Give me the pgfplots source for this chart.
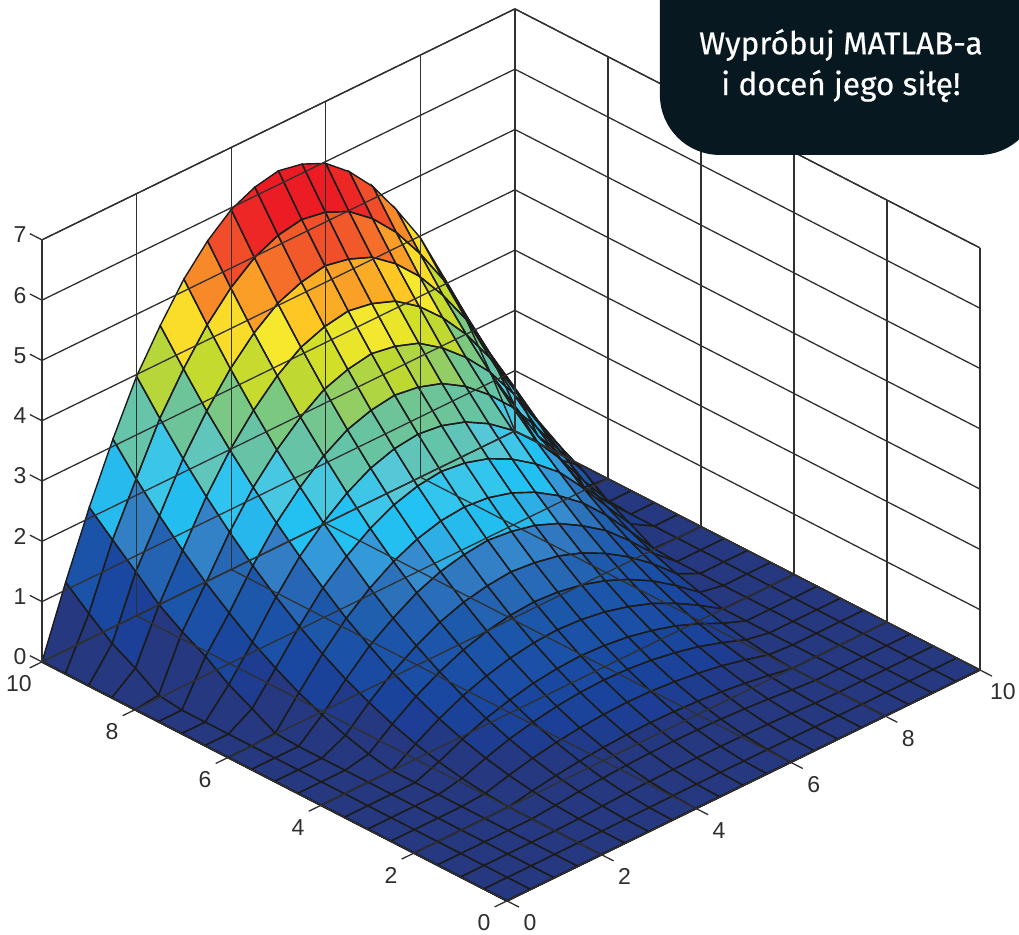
\documentclass[border=0pt]{standalone}
\usepackage{fontspec}
\setmainfont{Liberation Sans}
\newfontfamily\callfont[FakeBold=0.5]{Fira Sans}
\usepackage{pgfplots}
\usepackage{pgfplotstable}
\pgfplotsset{compat=1.18}
\usetikzlibrary{calc}
\definecolor{tickc}{HTML}{2E2E2E}
\definecolor{gridc}{HTML}{303030}
\definecolor{callc}{HTML}{071820}
\pgfplotsset{
 colormap={surfmap}{
  rgb255=(37,56,128) rgb255=(37,56,128) rgb255=(29,62,148) rgb255=(26,68,156) rgb255=(26,72,160)
  rgb255=(27,78,165) rgb255=(27,82,167) rgb255=(28,85,170) rgb255=(28,88,170) rgb255=(34,96,176)
  rgb255=(40,105,182) rgb255=(45,115,188) rgb255=(50,125,195) rgb255=(55,145,212) rgb255=(45,175,230)
  rgb255=(35,190,240) rgb255=(35,192,242) rgb255=(35,195,245) rgb255=(60,198,232) rgb255=(75,199,222)
  rgb255=(90,199,210) rgb255=(100,196,170) rgb255=(102,195,165) rgb255=(104,195,160) rgb255=(108,196,152)
  rgb255=(118,199,135) rgb255=(135,203,115) rgb255=(160,209,85) rgb255=(190,216,50) rgb255=(198,219,45)
  rgb255=(205,222,40) rgb255=(225,227,42) rgb255=(245,232,45) rgb255=(250,218,40) rgb255=(255,205,35)
  rgb255=(252,182,38) rgb255=(250,160,40) rgb255=(248,140,41) rgb255=(246,120,42) rgb255=(243,102,42)
  rgb255=(241,85,42) rgb255=(240,68,41) rgb255=(238,50,40) rgb255=(237,39,38) rgb255=(236,28,36)
  rgb255=(236,28,36) rgb255=(236,28,36)},
 colormap={linemap}{rgb255=(28,28,28) rgb255=(28,28,28)}
}
\pgfplotstableread[row sep=\\]{
x y z\\
0 0 0\\ 0.5 0 0\\ 1 0 0\\ 1.5 0 0\\ 2 0 0\\ 2.5 0 0\\ 3 0 0\\ 3.5 0 0\\ 4 0 0\\ 4.5 0 0\\ 5 0 0\\ 5.5 0 0\\ 6 0 0\\ 6.5 0 0\\ 7 0 0\\ 7.5 0 0\\ 8 0 0\\ 8.5 0 0\\ 9 0 0\\ 9.5 0 0\\ 10 0 0\\
0 0.5 0\\ 0.5 0.5 0\\ 1 0.5 0\\ 1.5 0.5 0\\ 2 0.5 0\\ 2.5 0.5 .002\\ 3 0.5 .006\\ 3.5 0.5 .010\\ 4 0.5 .013\\ 4.5 0.5 .015\\ 5 0.5 .016\\ 5.5 0.5 .015\\ 6 0.5 .013\\ 6.5 0.5 .010\\ 7 0.5 .006\\ 7.5 0.5 .002\\ 8 0.5 0\\ 8.5 0.5 0\\ 9 0.5 0\\ 9.5 0.5 0\\ 10 0.5 0\\
0 1 0\\ 0.5 1 0\\ 1 1 0\\ 1.5 1 0\\ 2 1 0\\ 2.5 1 .010\\ 3 1 .029\\ 3.5 1 .043\\ 4 1 .054\\ 4.5 1 .060\\ 5 1 .062\\ 5.5 1 .060\\ 6 1 .054\\ 6.5 1 .043\\ 7 1 .029\\ 7.5 1 .010\\ 8 1 0\\ 8.5 1 0\\ 9 1 0\\ 9.5 1 0\\ 10 1 0\\
0 1.5 0\\ 0.5 1.5 0\\ 1 1.5 0\\ 1.5 1.5 0\\ 2 1.5 0\\ 2.5 1.5 .033\\ 3 1.5 .071\\ 3.5 1.5 .101\\ 4 1.5 .122\\ 4.5 1.5 .135\\ 5 1.5 .140\\ 5.5 1.5 .135\\ 6 1.5 .122\\ 6.5 1.5 .101\\ 7 1.5 .071\\ 7.5 1.5 .033\\ 8 1.5 0\\ 8.5 1.5 0\\ 9 1.5 0\\ 9.5 1.5 0\\ 10 1.5 0\\
0 2 0\\ 0.5 2 0\\ 1 2 0\\ 1.5 2 0\\ 2 2 0\\ 2.5 2 .073\\ 3 2 .136\\ 3.5 2 .185\\ 4 2 .220\\ 4.5 2 .241\\ 5 2 .249\\ 5.5 2 .241\\ 6 2 .220\\ 6.5 2 .185\\ 7 2 .136\\ 7.5 2 .073\\ 8 2 0\\ 8.5 2 0\\ 9 2 0\\ 9.5 2 0\\ 10 2 0\\
0 2.5 0\\ 0.5 2.5 0\\ 1 2.5 0\\ 1.5 2.5 0\\ 2 2.5 .028\\ 2.5 2.5 .136\\ 3 2.5 .227\\ 3.5 2.5 .296\\ 4 2.5 .347\\ 4.5 2.5 .378\\ 5 2.5 .389\\ 5.5 2.5 .378\\ 6 2.5 .347\\ 6.5 2.5 .296\\ 7 2.5 .227\\ 7.5 2.5 .136\\ 8 2.5 .028\\ 8.5 2.5 0\\ 9 2.5 0\\ 9.5 2.5 0\\ 10 2.5 0\\
0 3 0\\ 0.5 3 0\\ 1 3 0\\ 1.5 3 0\\ 2 3 .078\\ 2.5 3 .222\\ 3 3 .346\\ 3.5 3 .436\\ 4 3 .505\\ 4.5 3 .545\\ 5 3 .561\\ 5.5 3 .545\\ 6 3 .505\\ 6.5 3 .436\\ 7 3 .346\\ 7.5 3 .222\\ 8 3 .078\\ 8.5 3 0\\ 9 3 0\\ 9.5 3 0\\ 10 3 0\\
0 3.5 0\\ 0.5 3.5 0\\ 1 3.5 0\\ 1.5 3.5 0\\ 2 3.5 .153\\ 2.5 3.5 .336\\ 3 3.5 .492\\ 3.5 3.5 .605\\ 4 3.5 .692\\ 4.5 3.5 .742\\ 5 3.5 .763\\ 5.5 3.5 .742\\ 6 3.5 .692\\ 6.5 3.5 .605\\ 7 3.5 .492\\ 7.5 3.5 .336\\ 8 3.5 .153\\ 8.5 3.5 0\\ 9 3.5 0\\ 9.5 3.5 0\\ 10 3.5 0\\
0 4 0\\ 0.5 4 0\\ 1 4 0\\ 1.5 4 0\\ 2 4 .253\\ 2.5 4 .478\\ 3 4 .666\\ 3.5 4 .805\\ 4 4 .910\\ 4.5 4 .971\\ 5 4 .997\\ 5.5 4 .971\\ 6 4 .910\\ 6.5 4 .805\\ 7 4 .666\\ 7.5 4 .478\\ 8 4 .253\\ 8.5 4 0\\ 9 4 0\\ 9.5 4 0\\ 10 4 0\\
0 4.5 0\\ 0.5 4.5 0\\ 1 4.5 0\\ 1.5 4.5 .079\\ 2 4.5 .383\\ 2.5 4.5 .650\\ 3 4.5 .867\\ 3.5 4.5 1.037\\ 4 4.5 1.158\\ 4.5 4.5 1.231\\ 5 4.5 1.262\\ 5.5 4.5 1.231\\ 6 4.5 1.158\\ 6.5 4.5 1.037\\ 7 4.5 .867\\ 7.5 4.5 .650\\ 8 4.5 .383\\ 8.5 4.5 .079\\ 9 4.5 0\\ 9.5 4.5 0\\ 10 4.5 0\\
0 5 0\\ 0.5 5 0\\ 1 5 0\\ 1.5 5 .190\\ 2 5 .545\\ 2.5 5 .850\\ 3 5 1.100\\ 3.5 5 1.300\\ 4 5 1.440\\ 4.5 5 1.520\\ 5 5 1.560\\ 5.5 5 1.520\\ 6 5 1.440\\ 6.5 5 1.300\\ 7 5 1.100\\ 7.5 5 .850\\ 8 5 .545\\ 8.5 5 .190\\ 9 5 0\\ 9.5 5 0\\ 10 5 0\\
0 5.5 0\\ 0.5 5.5 0\\ 1 5.5 0\\ 1.5 5.5 .330\\ 2 5.5 .730\\ 2.5 5.5 1.090\\ 3 5.5 1.360\\ 3.5 5.5 1.590\\ 4 5.5 1.750\\ 4.5 5.5 1.840\\ 5 5.5 1.885\\ 5.5 5.5 1.840\\ 6 5.5 1.750\\ 6.5 5.5 1.590\\ 7 5.5 1.360\\ 7.5 5.5 1.090\\ 8 5.5 .730\\ 8.5 5.5 .330\\ 9 5.5 0\\ 9.5 5.5 0\\ 10 5.5 0\\
0 6 0\\ 0.5 6 0\\ 1 6 .020\\ 1.5 6 .500\\ 2 6 .954\\ 2.5 6 1.350\\ 3 6 1.660\\ 3.5 6 1.910\\ 4 6 2.090\\ 4.5 6 2.200\\ 5 6 2.240\\ 5.5 6 2.200\\ 6 6 2.090\\ 6.5 6 1.910\\ 7 6 1.660\\ 7.5 6 1.350\\ 8 6 .954\\ 8.5 6 .500\\ 9 6 .020\\ 9.5 6 0\\ 10 6 0\\
0 6.5 0\\ 0.5 6.5 0\\ 1 6.5 .230\\ 1.5 6.5 .710\\ 2 6.5 1.210\\ 2.5 6.5 1.660\\ 3 6.5 1.990\\ 3.5 6.5 2.260\\ 4 6.5 2.460\\ 4.5 6.5 2.580\\ 5 6.5 2.630\\ 5.5 6.5 2.580\\ 6 6.5 2.460\\ 6.5 6.5 2.260\\ 7 6.5 1.990\\ 7.5 6.5 1.660\\ 8 6.5 1.210\\ 8.5 6.5 .710\\ 9 6.5 .230\\ 9.5 6.5 0\\ 10 6.5 0\\
0 7 0\\ 0.5 7 0\\ 1 7 .430\\ 1.5 7 .945\\ 2 7 1.500\\ 2.5 7 1.980\\ 3 7 2.350\\ 3.5 7 2.650\\ 4 7 2.870\\ 4.5 7 3.000\\ 5 7 3.050\\ 5.5 7 3.000\\ 6 7 2.870\\ 6.5 7 2.650\\ 7 7 2.350\\ 7.5 7 1.980\\ 8 7 1.500\\ 8.5 7 .945\\ 9 7 .430\\ 9.5 7 0\\ 10 7 0\\
0 7.5 0\\ 0.5 7.5 0\\ 1 7.5 .700\\ 1.5 7.5 1.230\\ 2 7.5 1.820\\ 2.5 7.5 2.340\\ 3 7.5 2.740\\ 3.5 7.5 3.070\\ 4 7.5 3.310\\ 4.5 7.5 3.440\\ 5 7.5 3.500\\ 5.5 7.5 3.440\\ 6 7.5 3.310\\ 6.5 7.5 3.070\\ 7 7.5 2.740\\ 7.5 7.5 2.340\\ 8 7.5 1.820\\ 8.5 7.5 1.230\\ 9 7.5 .700\\ 9.5 7.5 0\\ 10 7.5 0\\
0 8 0\\ 0.5 8 .050\\ 1 8 .910\\ 1.5 8 1.530\\ 2 8 2.180\\ 2.5 8 2.730\\ 3 8 3.160\\ 3.5 8 3.510\\ 4 8 3.780\\ 4.5 8 3.920\\ 5 8 3.990\\ 5.5 8 3.920\\ 6 8 3.780\\ 6.5 8 3.510\\ 7 8 3.160\\ 7.5 8 2.730\\ 8 8 2.180\\ 8.5 8 1.530\\ 9 8 .910\\ 9.5 8 .050\\ 10 8 0\\
0 8.5 0\\ 0.5 8.5 .300\\ 1 8.5 1.160\\ 1.5 8.5 1.870\\ 2 8.5 2.570\\ 2.5 8.5 3.150\\ 3 8.5 3.620\\ 3.5 8.5 4.000\\ 4 8.5 4.280\\ 4.5 8.5 4.430\\ 5 8.5 4.500\\ 5.5 8.5 4.430\\ 6 8.5 4.280\\ 6.5 8.5 4.000\\ 7 8.5 3.620\\ 7.5 8.5 3.150\\ 8 8.5 2.570\\ 8.5 8.5 1.870\\ 9 8.5 1.160\\ 9.5 8.5 .300\\ 10 8.5 0\\
0 9 0\\ 0.5 9 .510\\ 1 9 1.510\\ 1.5 9 2.245\\ 2 9 3.000\\ 2.5 9 3.600\\ 3 9 4.110\\ 3.5 9 4.510\\ 4 9 4.810\\ 4.5 9 4.970\\ 5 9 5.050\\ 5.5 9 4.970\\ 6 9 4.810\\ 6.5 9 4.510\\ 7 9 4.110\\ 7.5 9 3.600\\ 8 9 3.000\\ 8.5 9 2.245\\ 9 9 1.510\\ 9.5 9 .510\\ 10 9 0\\
0 9.5 0\\ 0.5 9.5 .810\\ 1 9.5 1.840\\ 1.5 9.5 2.660\\ 2 9.5 3.470\\ 2.5 9.5 4.100\\ 3 9.5 4.640\\ 3.5 9.5 5.060\\ 4 9.5 5.370\\ 4.5 9.5 5.550\\ 5 9.5 5.620\\ 5.5 9.5 5.550\\ 6 9.5 5.370\\ 6.5 9.5 5.060\\ 7 9.5 4.640\\ 7.5 9.5 4.100\\ 8 9.5 3.470\\ 8.5 9.5 2.660\\ 9 9.5 1.840\\ 9.5 9.5 .810\\ 10 9.5 0\\
0 10 0\\ 0.5 10 1.13\\ 1 10 2.18\\ 1.5 10 3.12\\ 2 10 3.97\\ 2.5 10 4.62\\ 3 10 5.20\\ 3.5 10 5.64\\ 4 10 5.97\\ 4.5 10 6.15\\ 5 10 6.23\\ 5.5 10 6.15\\ 6 10 5.97\\ 6.5 10 5.64\\ 7 10 5.20\\ 7.5 10 4.62\\ 8 10 3.97\\ 8.5 10 3.12\\ 9 10 2.18\\ 9.5 10 1.13\\ 10 10 0\\
}\surfdata
\begin{document}
\begin{tikzpicture}
\begin{axis}[
  x={(47.3pt,23.1pt)}, y={(-46.5pt,23.9pt)}, z={(0pt,60.3pt)},
  xmin=0, xmax=10, ymin=0, ymax=10, zmin=0, zmax=7,
  xtick={0,2,...,10}, ytick={0,2,...,10}, ztick={0,1,...,7},
  xticklabels={,,}, yticklabels={,,}, zticklabels={,,},
  grid=major, axis on top,
  major grid style={gridc, line width=1.3pt},
  axis line style={gridc, line width=1.3pt},
  major tick length=0pt,
  point meta min=0, point meta max=5.75,
  clip=false,
]
\addplot3[surf, shader=flat corner, colormap name=surfmap, z buffer=sort, mesh/rows=21, mesh/cols=21] table[x=x,y=y,z=z] {\surfdata};
\addplot3[mesh, colormap name=linemap, line width=1.4pt, mesh/rows=21, mesh/cols=21] table[x=x,y=y,z=z] {\surfdata};
\coordinate (O) at (axis cs:0,0,0);
\draw[black, line width=2pt] (axis cs:0,10,0) -- (axis cs:0,0,0) -- (axis cs:10,0,0);
\draw[gridc, line width=2pt] (axis cs:0,10,0) -- (axis cs:0,10,7);
\pgfplotsinvokeforeach{0,2,4,6,8,10}{
  \draw[gridc, line width=1.3pt] (axis cs:#1,0,0) -- (axis cs:#1,-0.26,0);
  \draw[gridc, line width=1.3pt] (axis cs:0,#1,0) -- (axis cs:-0.26,#1,0);
  \node[tickc, font=\fontsize{23}{23}\selectfont, xshift=23pt, yshift=-22pt] at (axis cs:#1,0,0) {#1};
  \node[tickc, font=\fontsize{23}{23}\selectfont, xshift=-23pt, yshift=-22pt] at (axis cs:0,#1,0) {#1};
}
\pgfplotsinvokeforeach{0,1,2,3,4,5,6,7}{
  \draw[gridc, line width=1.3pt] (axis cs:0,10,#1) -- (axis cs:0,10.26,#1);
  \node[tickc, font=\fontsize{23}{23}\selectfont, xshift=-22pt, yshift=5pt] at (axis cs:0,10,#1) {#1};
}
\end{axis}
\path[use as bounding box] ($(O)+(-507pt,-33pt)$) rectangle ($(O)+(512pt,901pt)$);
\begin{scope}
\clip ($(O)+(-507pt,-33pt)$) rectangle ($(O)+(512pt,901pt)$);
\fill[callc, rounded corners=60pt] ($(O)+(153pt,746pt)$) rectangle ($(O)+(532pt,1000pt)$);
\node[white, font=\callfont\fontsize{31.5}{31.5}\selectfont, anchor=center] at ($(O)+(334pt,856pt)$) {Wypróbuj MATLAB-a};
\node[white, font=\callfont\fontsize{31.5}{31.5}\selectfont, anchor=center] at ($(O)+(334pt,815pt)$) {i doceń jego siłę!};
\end{scope}
\end{tikzpicture}
\end{document}
